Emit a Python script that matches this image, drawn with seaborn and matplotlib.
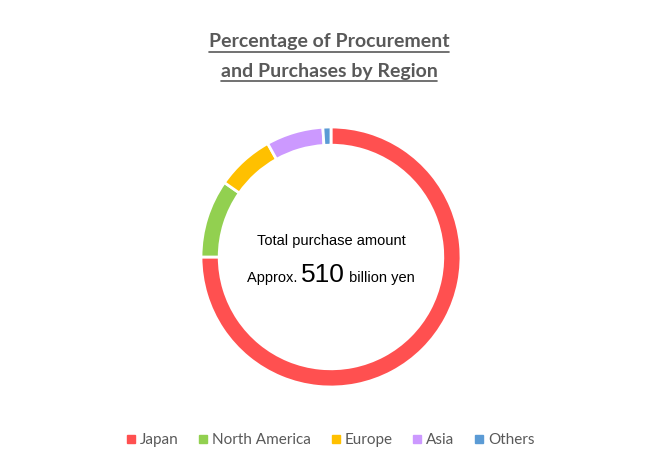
import matplotlib
matplotlib.use("Agg")
import matplotlib.pyplot as plt
import seaborn as sns
from matplotlib.lines import Line2D

regions = ["Japan", "North America", "Europe", "Asia", "Others"]
shares = [75.0, 9.7, 7.2, 7.1, 1.0]
colors = ["#FF5050", "#92D050", "#FFC000", "#CC99FF", "#5B9BD5"]

sns.set_theme(style="white")
plt.rcParams['font.family'] = ['Lato', 'DejaVu Sans']

fig = plt.figure(figsize=(6.58, 4.67), dpi=100)
ax = fig.add_axes([201/658, 80/467, 260/658, 260/467])
ax.pie(shares, colors=colors, startangle=90, counterclock=False,
       wedgeprops=dict(width=0.14, edgecolor="white", linewidth=2))
ax.set_aspect("equal")
ax.set_xlim(-1, 1); ax.set_ylim(-1, 1)

cf = dict(family="Liberation Sans", color="black")
fig.text(331/658, 1 - 241/467, "Total purchase amount", ha="center", va="center",
         fontsize=10.5, **cf)

fig.canvas.draw()
r = fig.canvas.get_renderer()
parts = [("Approx. ", 10.5), ("510", 19), (" billion yen", 10.5)]
base_y = 1 - 282/467
objs = [fig.text(0, base_y, s, ha="left", va="baseline", fontsize=fs, **cf) for s, fs in parts]
widths = [o.get_window_extent(r).width / fig.bbox.width for o in objs]
x = 331/658 - sum(widths) / 2
for o, w in zip(objs, widths):
    o.set_x(x)
    x += w

titles = [("Percentage of Procurement", 42), ("and Purchases by Region", 71)]
tobjs = []
for s, y in titles:
    t = fig.text(0.5, 1 - y/467, s, ha="center", va="center", fontsize=14,
                 fontweight="bold", color="#595959")
    tobjs.append(t)
fig.canvas.draw()
for t in tobjs:
    bb = t.get_window_extent(r).transformed(fig.transFigure.inverted())
    yy = bb.y0 - 0.004
    fig.add_artist(Line2D([bb.x0, bb.x1], [yy, yy], color="#595959", lw=1.2,
                          transform=fig.transFigure))

handles = [plt.Line2D([], [], marker="s", ls="", color=c, markersize=6) for c in colors]
fig.legend(handles, regions, loc="center", bbox_to_anchor=(0.5, 1 - 440/467), ncol=5,
           frameon=False, fontsize=11, handletextpad=0.1, handlelength=1.0,
           columnspacing=1.1, labelcolor="#595959")

fig.savefig("out.png", dpi=100)
